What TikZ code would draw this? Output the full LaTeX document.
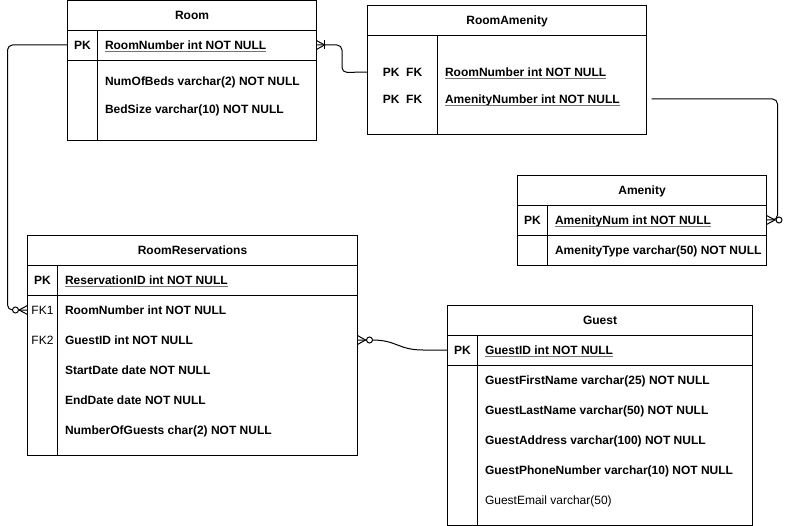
\documentclass[tikz,border=0pt]{standalone}
\usepackage{fontspec}
\setmainfont{Liberation Sans}
\begin{document}
\begin{tikzpicture}[x=1pt,y=-1pt,
  every node/.style={font=\fontsize{12}{14}\selectfont\bfseries, inner sep=0pt, outer sep=0pt,
                     text height=8.6pt, text depth=0pt},
  sect/.style={draw, line width=1pt, anchor=north west, fill=white},
  fld/.style={anchor=west},
  key/.style={anchor=center},
  ul/.style={draw=black!55, line width=0.9pt},
  conn/.style={line width=1pt},
  crow/.style={line width=1pt},
  hole/.style={line width=1pt, fill=white}]

\useasboundingbox (0,0) rectangle (786,526);

% ---------------- Room ----------------
\node[sect, minimum width=249pt, minimum height=30pt]  (roomH)  at (67.5,0.5) {};
\node[sect, minimum width=249pt, minimum height=30pt]  (roomPK) at (67.5,30.5) {};
\node[sect, minimum width=249pt, minimum height=80pt]  (roomB)  at (67.5,60.5) {};
\draw[line width=1pt] (97.5,30.5) -- (97.5,140.5);
\node[key] (roomT) at (roomH) {Room};
\node[key] (roomK) at (82.5,45) {PK};
\node[fld] (roomF1) at (105,45) {RoomNumber int NOT NULL};
\node[fld] (roomF2) at (105,81) {NumOfBeds varchar(2) NOT NULL};
\node[fld] (roomF3) at (105,109.5) {BedSize varchar(10) NOT NULL};
\draw[ul] ([yshift=-2pt]roomF1.south west) -- ([yshift=-2pt]roomF1.south east);

% ---------------- RoomAmenity ----------------
\node[sect, minimum width=279pt, minimum height=30pt] (raH) at (367.5,5.5) {};
\node[sect, minimum width=279pt, minimum height=99pt] (raB) at (367.5,35.5) {};
\draw[line width=1pt] (437.5,35.5) -- (437.5,134.5);
\node[key] (raT) at (raH) {RoomAmenity};
\node[key] (raK1) at (402.5,72) {PK\ \ FK};
\node[key] (raK2) at (402.5,99) {PK\ \ FK};
\node[fld] (raF1) at (445,72) {RoomNumber int NOT NULL};
\node[fld] (raF2) at (445,99) {AmenityNumber int NOT NULL};
\draw[ul] ([yshift=-2pt]raF1.south west) -- ([yshift=-2pt]raF1.south east);
\draw[ul] ([yshift=-2pt]raF2.south west) -- ([yshift=-2pt]raF2.south east);

% ---------------- Amenity ----------------
\node[sect, minimum width=249pt, minimum height=30pt] (amH)  at (517.5,175.5) {};
\node[sect, minimum width=249pt, minimum height=30pt] (amPK) at (517.5,205.5) {};
\node[sect, minimum width=249pt, minimum height=30pt] (amB)  at (517.5,235.5) {};
\draw[line width=1pt] (547.5,205.5) -- (547.5,265.5);
\node[key] (amT) at (amH) {Amenity};
\node[key] (amK) at (532.5,220) {PK};
\node[fld] (amF1) at (555,220) {AmenityNum int NOT NULL};
\node[fld] (amF2) at (555,250) {AmenityType varchar(50) NOT NULL};
\draw[ul] ([yshift=-2pt]amF1.south west) -- ([yshift=-2pt]amF1.south east);

% ---------------- RoomReservations ----------------
\node[sect, minimum width=330pt, minimum height=30pt]  (rrH)  at (27.5,235.5) {};
\node[sect, minimum width=330pt, minimum height=30pt]  (rrPK) at (27.5,265.5) {};
\node[sect, minimum width=330pt, minimum height=160pt] (rrB)  at (27.5,295.5) {};
\draw[line width=1pt] (57.5,265.5) -- (57.5,455.5);
\node[key] (rrT) at (rrH) {RoomReservations};
\node[key] (rrK) at (42.5,280) {PK};
\node[key] (rrK1) at (42.5,310) {\mdseries FK1};
\node[key] (rrK2) at (42.5,340) {\mdseries FK2};
\node[fld] (rrF0) at (65,280) {ReservationID int NOT NULL};
\node[fld] (rrF1) at (65,310) {RoomNumber int NOT NULL};
\node[fld] (rrF2) at (65,340) {GuestID int NOT NULL};
\node[fld] (rrF3) at (65,370) {StartDate date NOT NULL};
\node[fld] (rrF4) at (65,400.5) {EndDate date NOT NULL};
\node[fld] (rrF5) at (65,430.5) {NumberOfGuests char(2) NOT NULL};
\draw[ul] ([yshift=-2pt]rrF0.south west) -- ([yshift=-2pt]rrF0.south east);

% ---------------- Guest ----------------
\node[sect, minimum width=305pt, minimum height=30pt]  (guH)  at (447.5,305.5) {};
\node[sect, minimum width=305pt, minimum height=30pt]  (guPK) at (447.5,335.5) {};
\node[sect, minimum width=305pt, minimum height=160pt] (guB)  at (447.5,365.5) {};
\draw[line width=1pt] (477.5,335.5) -- (477.5,525.5);
\node[key] (guT) at (guH) {Guest};
\node[key] (guK) at (462.5,350) {PK};
\node[fld] (guF0) at (485,350) {GuestID int NOT NULL};
\node[fld] (guF1) at (485,380) {GuestFirstName varchar(25) NOT NULL};
\node[fld] (guF2) at (485,410) {GuestLastName varchar(50) NOT NULL};
\node[fld] (guF3) at (485,440) {GuestAddress varchar(100) NOT NULL};
\node[fld] (guF4) at (485,470) {GuestPhoneNumber varchar(10) NOT NULL};
\node[fld] (guF5) at (485,500.5) {\mdseries GuestEmail varchar(50)};
\draw[ul] ([yshift=-2pt]guF0.south west) -- ([yshift=-2pt]guF0.south east);

% ---------------- Connectors ----------------
% Room.RoomNumber -> RoomReservations.RoomNumber (zero or many)
\coordinate (c1a) at (7.5,45);
\coordinate (c1b) at (7.5,310);
\draw[conn, rounded corners=5pt] (roomPK.west |- roomK) -- (c1a) -- (c1b) -- (rrK1 -| rrB.west);
\draw[crow] (rrK1 -| rrB.west) ++(0,-4.5) -- ++(-8.5,4.5) -- ++(8.5,4.5);
\draw[hole] (rrK1 -| rrB.west) ++(-12,0) circle[radius=3];

% Room.RoomNumber -> RoomAmenity.RoomNumber (one or many)
\coordinate (c2a) at (342,45);
\coordinate (c2b) at (342,72.5);
\draw[conn, rounded corners=5pt] (roomPK.east |- roomK) -- (c2a) -- (c2b) -- (raF1.west -| raB.west);
\draw[crow] (roomPK.east |- roomK) ++(0,-4.5) -- ++(8,4.5) -- ++(-8,4.5);
\draw[crow] (roomPK.east |- roomK) ++(8,-4.5) -- ++(0,9);

% RoomAmenity.AmenityNumber -> Amenity.AmenityNum (zero or many)
\coordinate (c3a) at (777.5,220);
\draw[conn, rounded corners=5pt, shorten <=5pt] (raF2.west -| raB.east) -| (c3a) -- (amK -| amPK.east);
\draw[crow] (amK -| amPK.east) ++(0,-4.5) -- ++(8.5,4.5) -- ++(-8.5,4.5);
\draw[hole] (amK -| amPK.east) ++(12.5,0) circle[radius=3];

% RoomReservations.GuestID -> Guest.GuestID (zero or many)
\coordinate (c4a) at (372,340);
\coordinate (c4b) at (423,350);
\draw[conn] (rrK2 -| rrB.east) -- (c4a) .. controls (397,340) and (398,350) .. (c4b) -- (guK -| guPK.west);
\draw[crow] (rrK2 -| rrB.east) ++(0,-4.5) -- ++(8,4.5) -- ++(-8,4.5);
\draw[hole] (rrK2 -| rrB.east) ++(12,0) circle[radius=3];

\end{tikzpicture}
\end{document}
